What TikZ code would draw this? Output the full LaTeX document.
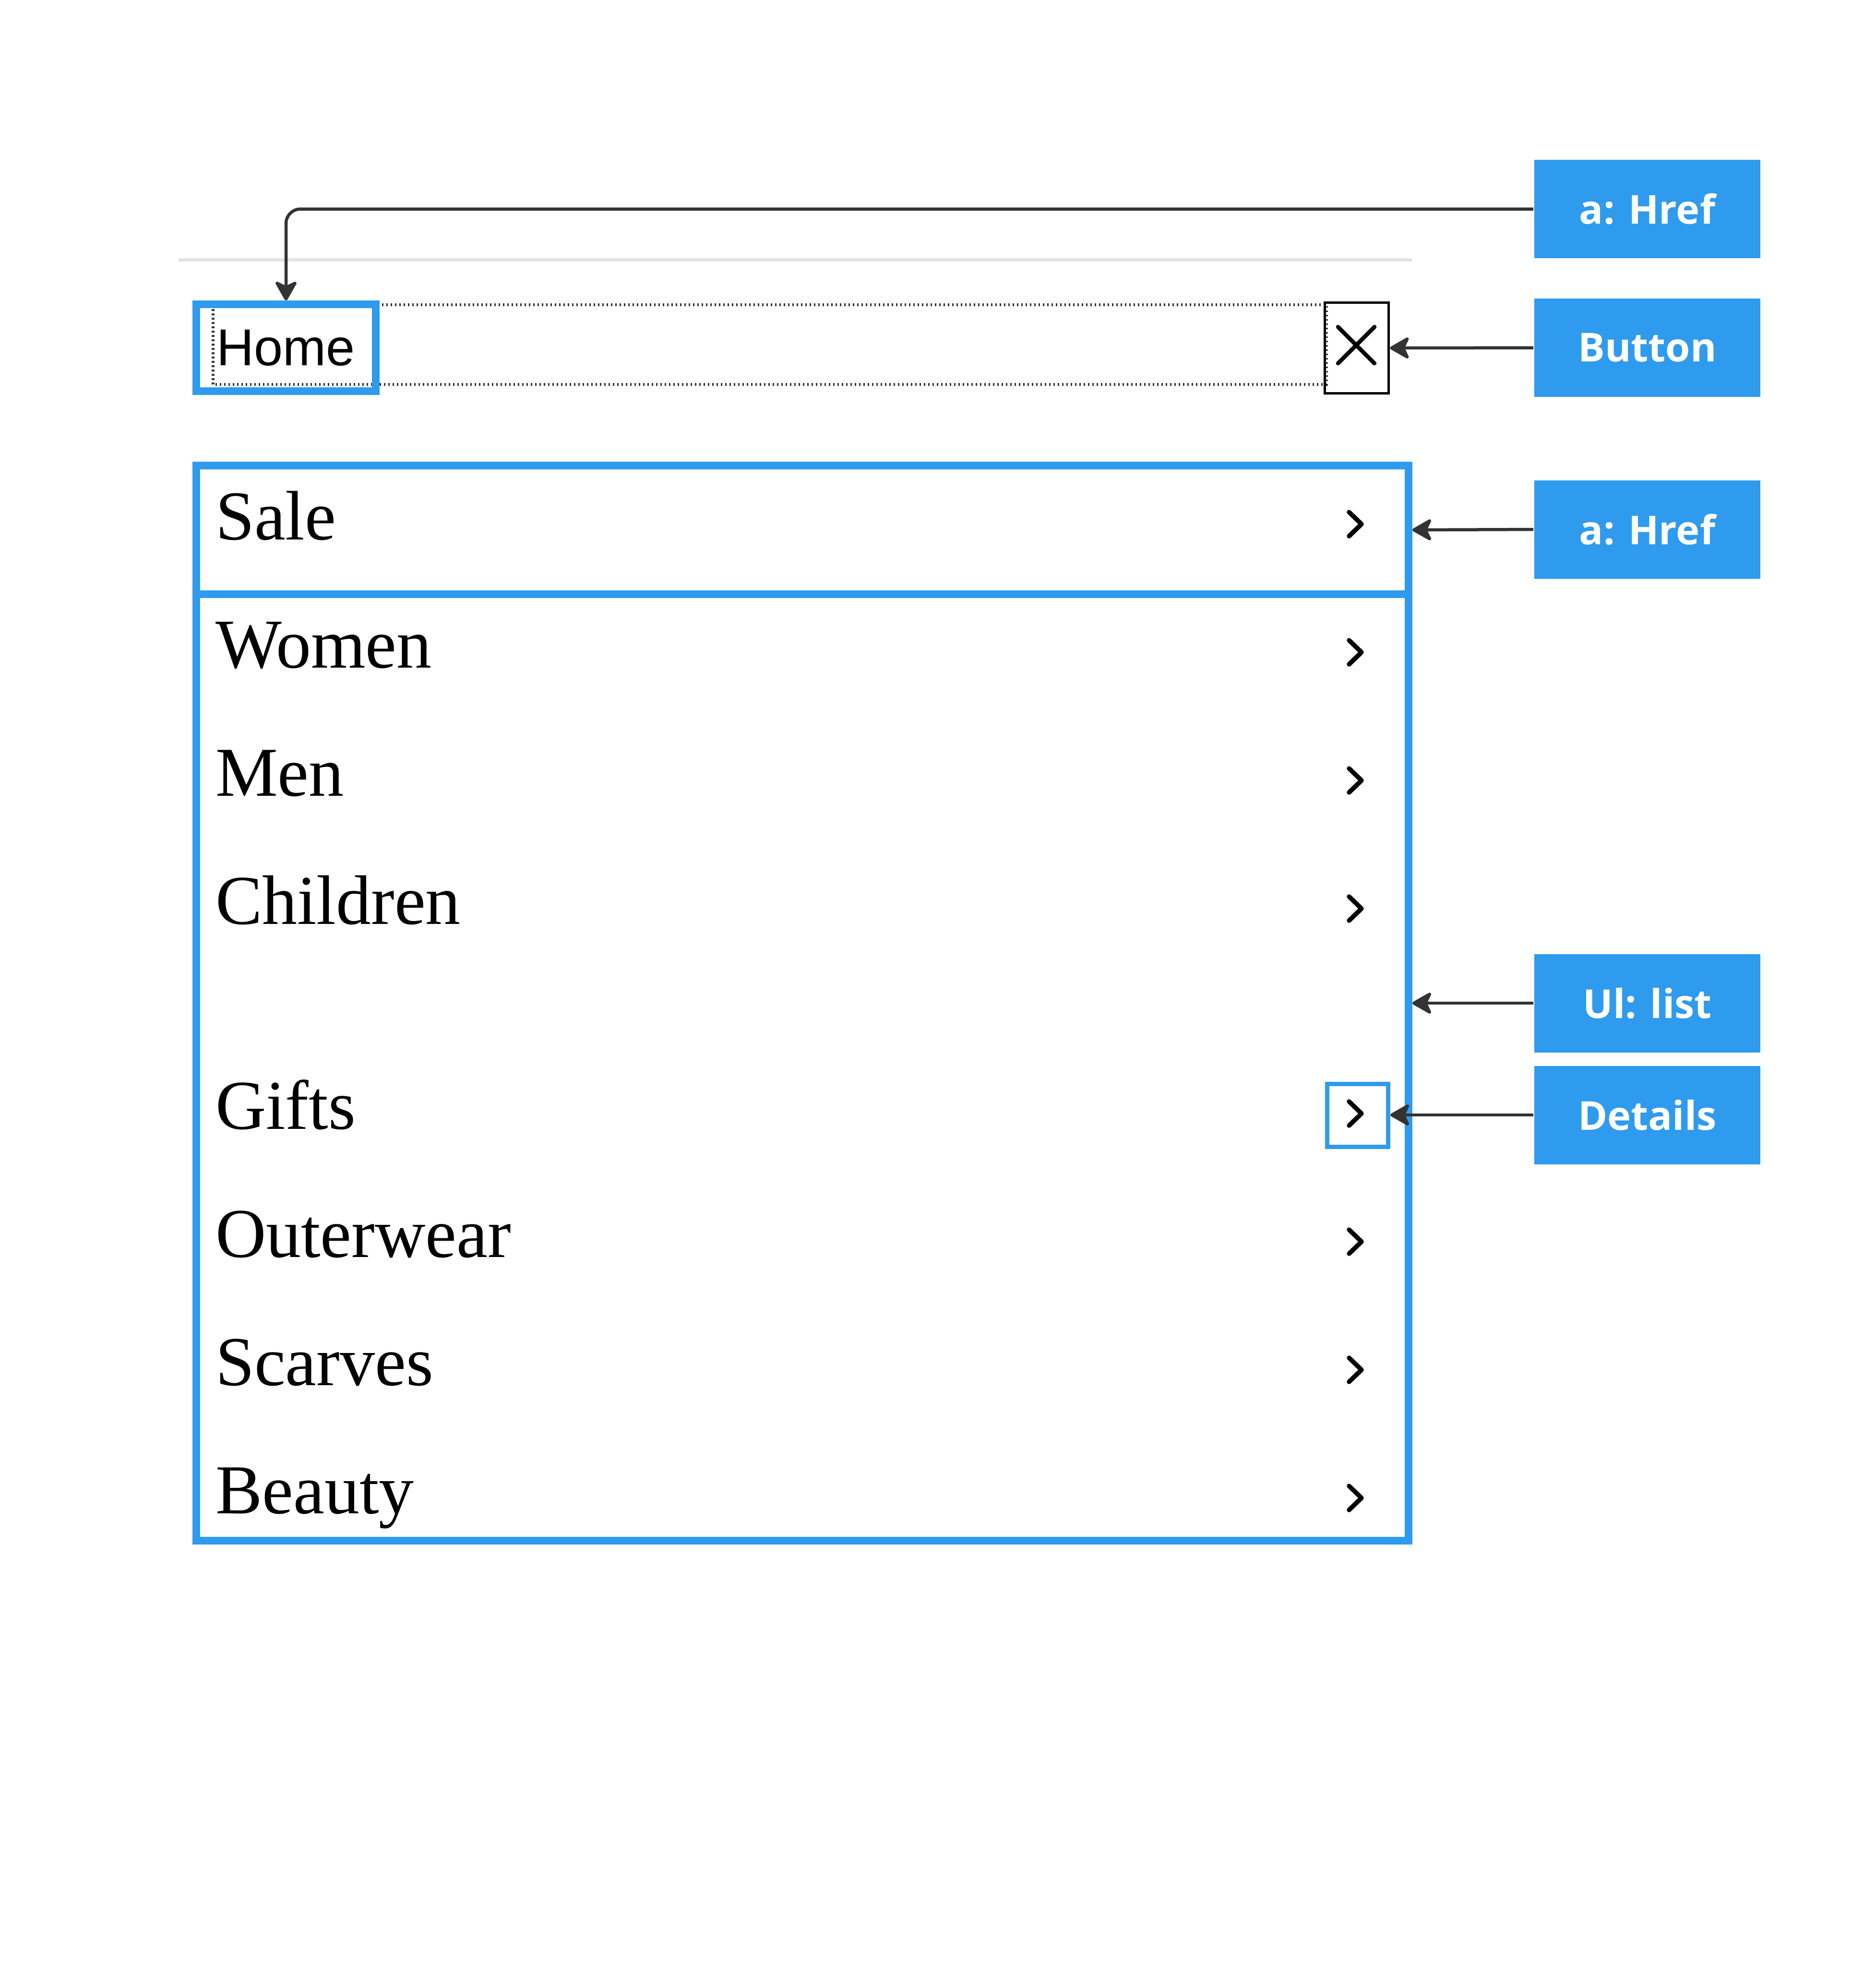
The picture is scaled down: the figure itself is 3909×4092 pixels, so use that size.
\documentclass[tikz,border=0pt]{standalone}
\usepackage{fontspec}
\usepackage{tikz}
\usetikzlibrary{arrows.meta}
\newfontfamily\labelfont{Open Sans}
\newfontfamily\homefont{Liberation Sans}
\newfontfamily\rowfont{Liberation Serif}
\definecolor{navblue}{HTML}{2F9BEE}
\definecolor{conngray}{HTML}{333333}
\definecolor{rulegray}{HTML}{E3E3E4}
\begin{document}
\begin{tikzpicture}[
	tag/.style={rectangle, fill=navblue, text=white, inner sep=0pt, minimum width=47.1pt, minimum height=20.5pt, font=\labelfont\bfseries\fontsize{8.3pt}{9pt}\selectfont},
	conn/.style={draw=conngray, line width=0.65pt, -{Stealth[length=4.6pt, width=5.2pt, inset=1.2pt, round]}},
	bluebox/.style={rectangle, draw=navblue, line width=1.6pt, inner sep=0pt},
	item/.style={anchor=base west, inner sep=0pt, font=\rowfont\fontsize{14.6pt}{16pt}\selectfont},
	chevron/.style={line width=0.95pt, line cap=round, line join=round}]
	\begin{scope}[x=0.1pt,y=-0.1pt]
	\useasboundingbox (0,0) rectangle (3909,4092);
	% description et nommage des noeuds
	\draw[rulegray, line width=0.7pt] (372,541) -- (2942,541);
	\draw[conngray, line width=0.55pt, dash pattern=on 0.35pt off 0.55pt] (444,635) rectangle (2764,801);
	\node (home) at (596,724.5) [bluebox, minimum width=37.4pt, minimum height=18.1pt, font=\homefont\fontsize{10.8pt}{12pt}\selectfont] {Home};
	\node (xbtn) at (2827,725) [rectangle, draw=black, line width=0.55pt, minimum width=13.3pt, minimum height=18.9pt] {};
	\draw[line width=0.85pt, line cap=round] (2788,681) -- (2864,757) (2788,757) -- (2864,681);
	\node (sale) at (1672,1104) [bluebox, minimum width=252.6pt, minimum height=26.8pt] {};
	\node (ul) at (1672,2224) [bluebox, minimum width=252.6pt, minimum height=197.2pt] {};
	\node (details) at (2829,2324) [bluebox, line width=0.9pt, minimum width=12.7pt, minimum height=13.1pt] {};
	\foreach \name/\y in {Sale/1124, Women/1391, Men/1658, Children/1925, Gifts/2352, Outerwear/2619, Scarves/2886, Beauty/3153}{
		\node (t\name) at (447,\y) [item] {\name};
		\draw[chevron] (2811,{\y-57}) -- (2837,{\y-32}) -- (2811,{\y-7});
	}
	\node (hreftop) at (3432.5,435.5) [tag] {a: Href};
	\node (btnlabel) at (3432.5,724.5) [tag] {Button};
	\node (hrefsale) at (3432.5,1103) [tag] {a: Href};
	\node (ullabel) at (3432.5,2090) [tag] {Ul: list};
	\node (detlabel) at (3432.5,2323) [tag] {Details};
	\draw[conn, rounded corners=3pt] (hreftop.west) -| (home.north);
	\draw[conn] (btnlabel.west) -- (xbtn.east);
	\draw[conn] (hrefsale.west) -- (sale.east);
	\draw[conn] (ullabel.west) -- (ullabel.west -| ul.east);
	\draw[conn] (detlabel.west) -- (detlabel.west -| details.east);
	\end{scope}
\end{tikzpicture}
\end{document}
